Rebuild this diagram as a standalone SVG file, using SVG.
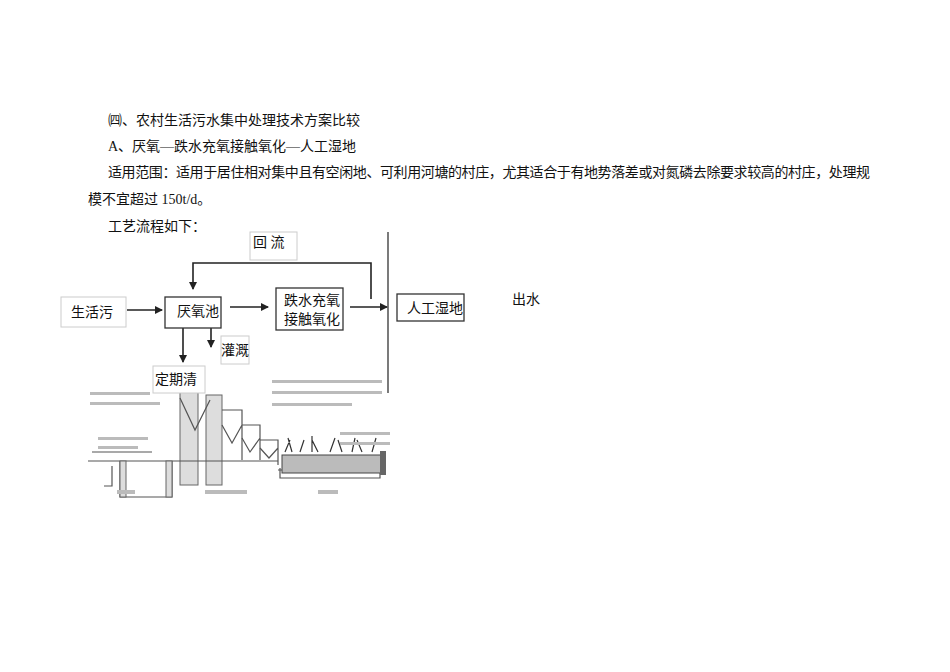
<svg xmlns="http://www.w3.org/2000/svg" width="950" height="672" viewBox="0 0 950 672">
<style>
text{font-family:"Liberation Serif","Noto Sans CJK SC",serif;font-size:14px;fill:#111}
.t{font-size:14px}
.bx{fill:#fff;stroke:#333;stroke-width:1.3}
.lb{fill:#fff;stroke:#ccc;stroke-width:1}
.ln{fill:none;stroke:#222;stroke-width:1.6}
.sk{fill:none;stroke:#555;stroke-width:1.2}
.hat{fill:#ddd;stroke:#666;stroke-width:1}
</style>
<defs><marker id="a" markerWidth="8" markerHeight="8" refX="7" refY="4" orient="auto" markerUnits="userSpaceOnUse"><path d="M0,0L8,4L0,8z" fill="#222"/></marker></defs>
<rect width="950" height="672" fill="#fff"/>
<text x="108" y="125">㈣、农村生活污水集中处理技术方案比较</text>
<text x="108" y="151">A、厌氧—跌水充氧接触氧化—人工湿地</text>
<text x="108" y="177" textLength="762">适用范围：适用于居住相对集中且有空闲地、可利用河塘的村庄，尤其适合于有地势落差或对氮磷去除要求较高的村庄，处理规</text>
<text x="88" y="204">模不宜超过 150t/d。</text>
<text x="108" y="231">工艺流程如下：</text>
<g id="connectors">
<polyline class="ln" points="371,299 371,263 193,263 193,289" marker-end="url(#a)"/>
<line class="ln" x1="127" y1="310" x2="162" y2="310" marker-end="url(#a)"/>
<line class="ln" x1="230" y1="307" x2="268" y2="307" marker-end="url(#a)"/>
<line class="ln" x1="350" y1="307" x2="387" y2="307" marker-end="url(#a)"/>
<line class="ln" x1="183" y1="328" x2="183" y2="362" marker-end="url(#a)"/>
<line class="ln" x1="211" y1="328" x2="211" y2="347" marker-end="url(#a)"/>
<line stroke="#333" stroke-width="1.3" x1="388" y1="232" x2="388" y2="393"/>
</g>
<g id="huiliu"><rect class="lb" x="250" y="232" width="47" height="28"/><text class="t" x="253" y="247">回 流</text></g>
<g id="shenghuo"><rect class="lb" x="61" y="297" width="65" height="30"/><text class="t" x="71" y="317">生活污</text></g>
<g id="yanyang"><rect class="bx" x="165" y="297" width="56" height="31"/><text class="t" x="177" y="316">厌氧池</text></g>
<g id="dieshui"><rect class="bx" x="276" y="288" width="67" height="42"/><text class="t" x="284" y="305">跌水充氧</text><text class="t" x="284" y="324">接触氧化</text></g>
<g id="shidi"><rect class="bx" x="397" y="294" width="67" height="27"/><text class="t" x="407" y="313">人工湿地</text></g>
<g id="chushui"><text class="t" x="512" y="304">出水</text></g>
<g id="guangai"><rect class="lb" x="221" y="336" width="28" height="28"/><text class="t" x="221" y="355">灌溉</text></g>
<g id="schematic">
<rect class="hat" x="180" y="392" width="18" height="93"/>
<rect class="hat" x="206" y="395" width="16" height="90"/>
<path class="sk" d="M180,398 L195,430 L210,400"/>
<path class="sk" d="M222,410 h20 v50 M222,425 l10,18 l10,-18"/>
<path class="sk" d="M242,425 h18 v35 M242,438 l8,14 l10,-14"/>
<path class="sk" d="M260,440 h18 v25 M260,448 l9,10 l9,-10"/>
<path class="sk" d="M92,452 h60 M88,461 h190 M120,461 v36 h52 v-36"/>
<path class="sk" d="M112,466 v20 h-8"/>
<rect class="hat" x="120" y="461" width="6" height="36"/>
<rect class="hat" x="166" y="461" width="6" height="36"/>
<path class="sk" d="M278,470 h80 M280,468 v10 h100 v-10"/>
<rect x="282" y="455" width="100" height="18" fill="#bbb" stroke="#444" stroke-width="1"/>
<path d="M285,452 l5,-12 M292,452 l-4,-14 M300,452 l4,-12 M312,452 l0,-16 M318,452 l-6,-12 M330,452 l5,-14 M342,452 l-4,-12 M352,452 l3,-14 M362,452 l-5,-12 M372,452 l4,-14" stroke="#333" stroke-width="1.2"/>
<rect x="380" y="451" width="6" height="24" fill="#666"/>
<g fill="#bbb"><rect x="272" y="380" width="110" height="3"/><rect x="272" y="391" width="110" height="3"/><rect x="272" y="403" width="80" height="3"/><rect x="90" y="392" width="60" height="3"/><rect x="90" y="402" width="70" height="3"/><rect x="98" y="437" width="50" height="3"/><rect x="98" y="446" width="40" height="3"/><rect x="340" y="432" width="50" height="3"/><rect x="340" y="442" width="50" height="3"/><rect x="117" y="490" width="18" height="4"/><rect x="205" y="490" width="42" height="4"/><rect x="318" y="490" width="20" height="4"/></g>
</g>
<g id="dingqi"><rect class="lb" x="153" y="366" width="52" height="27"/><text class="t" x="155" y="384">定期清</text></g>
</svg>
